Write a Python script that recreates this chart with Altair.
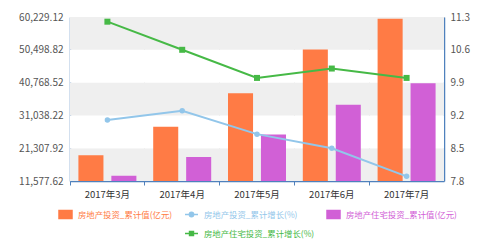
import altair as alt
import pandas as pd

months = ["2017年3月", "2017年4月", "2017年5月", "2017年6月", "2017年7月"]
invest = [19200, 27700, 37600, 50600, 59700]
resi = [13100, 18700, 25400, 34200, 40600]
invest_growth = [9.1, 9.3, 8.8, 8.5, 7.9]
resi_growth = [11.2, 10.6, 10.0, 10.2, 10.0]
left_ticks = [11577.62, 21307.92, 31038.22, 40768.52, 50498.82, 60229.12]
right_ticks = [7.8, 8.5, 9.2, 9.9, 10.6, 11.3]

S1 = "房地产投资_累计值(亿元)"
S2 = "房地产投资_累计增长(%)"
S3 = "房地产住宅投资_累计值(亿元)"
S4 = "房地产住宅投资_累计增长(%)"
BLANK = "blank"
domain = [S1, S2, S3, BLANK, S4]
ORANGE, BLUE, PURPLE, GREEN = "#FF7B45", "#92C6EA", "#D160D6", "#46B946"
crange = [ORANGE, BLUE, PURPLE, "rgba(0,0,0,0)", GREEN]
AXIS_BLUE = "#4F81BD"
FONT = "Noto Sans CJK SC"

bars_df = pd.DataFrame({
    "month": months * 2,
    "series": [S1] * 5 + [S3] * 5,
    "value": invest + resi,
})
g1_df = pd.DataFrame({"month": months, "v": invest_growth})
g2_df = pd.DataFrame({"month": months, "v": resi_growth})
band_df = pd.DataFrame({
    "y": left_ticks[:-1],
    "y2": left_ticks[1:],
    "shade": ["g", "w", "g", "w", "g"],
})

ydom = [left_ticks[0], left_ticks[-1]]
rdom = [right_ticks[0], right_ticks[-1]]

xaxis = alt.Axis(bandPosition=0, labelAngle=0, grid=True, gridColor="#dcdcdc",
                 domainColor=AXIS_BLUE, domainWidth=1.5, tickColor=AXIS_BLUE,
                 tickSize=4, labelColor="#333333", labelFontSize=9.5, labelPadding=4,
                 labelFont=FONT, labelOverlap=False, labelLimit=200)
xscale = alt.Scale(paddingInner=0, paddingOuter=0)


def xenc():
    return alt.X("month:N", sort=months, title=None, scale=xscale, axis=xaxis)


yaxis = alt.Axis(values=left_ticks, format=",.2f", grid=False, ticks=False,
                 domainColor=AXIS_BLUE, domainWidth=1.5, labelColor="#555555",
                 labelFontSize=10, labelPadding=7, labelFont=FONT,
                 labelOverlap=False)
yscale = alt.Scale(domain=ydom, nice=False, zero=False)

bands = alt.Chart(band_df).mark_rect(clip=True).encode(
    x=alt.value(0), x2=alt.value("width"),
    y=alt.Y("y:Q", scale=yscale, axis=yaxis, title=None),
    y2="y2:Q",
    fill=alt.Fill("shade:N", scale=alt.Scale(domain=["g", "w"], range=["#efefef", "#ffffff"]), legend=None),
)

sym_rect = "M-1,-0.62H1V0.62H-1Z"
sym_circ = "M-1,0H-0.33M0.33,0H1M-0.33,0A0.33,0.33 0 1,0 0.33,0A0.33,0.33 0 1,0 -0.33,0Z"
sym_sq = "M-1,0H-0.33M0.33,0H1M-0.3,-0.3H0.3V0.3H-0.3Z"
shape_expr = ("datum.value == '%s' ? '%s' : datum.value == '%s' ? '%s' : '%s'"
              % (S2, sym_circ, S4, sym_sq, sym_rect))

legend = alt.Legend(
    title=None, values=domain, orient="none", legendX=-12, legendY=190,
    direction="horizontal",
    columns=3, gridAlign="none", columnPadding=9, rowPadding=4,
    symbolSize=169, labelOffset=5, labelFontSize=8.4, labelFont=FONT, labelLimit=300,
    labelExpr="datum.value == '%s' ? '%s' : datum.value" % (BLANK, S1),
    symbolType={"expr": shape_expr},
    symbolFillColor={"expr": "scale('color', datum.value)"},
    symbolStrokeColor={"expr": "scale('color', datum.value)"},
    symbolStrokeWidth=1.5,
    symbolOpacity=1,
    labelColor={"expr": "scale('color', datum.value)"},
)

bars = alt.Chart(bars_df).mark_bar(clip=True).encode(
    x=xenc(),
    xOffset=alt.XOffset("series:N", sort=[S1, S3],
                        scale=alt.Scale(paddingInner=0.24, paddingOuter=0.255)),
    y=alt.Y("value:Q", title=None, scale=yscale, axis=yaxis),
    color=alt.Color("series:N", scale=alt.Scale(domain=domain, range=crange), legend=legend),
)

left = alt.layer(bands, bars)

raxis = alt.Axis(values=right_ticks, format=".1f", grid=False, ticks=False, orient="right",
                 domainColor=AXIS_BLUE, domainWidth=1.5, labelColor="#555555",
                 labelFontSize=10, labelPadding=6, labelFont=FONT, labelOverlap=False)
rscale = alt.Scale(domain=rdom, nice=False, zero=False)

line1 = alt.Chart(g1_df).mark_line(color=BLUE, strokeWidth=2,
                                   point=alt.OverlayMarkDef(color=BLUE, size=30, filled=True)).encode(
    x=xenc(),
    y=alt.Y("v:Q", scale=rscale, axis=raxis, title=None),
)
line2 = alt.Chart(g2_df).mark_line(color=GREEN, strokeWidth=2,
                                   point=alt.OverlayMarkDef(color=GREEN, size=36, filled=True, shape="square")).encode(
    x=xenc(),
    y=alt.Y("v:Q", scale=rscale, axis=raxis, title=None),
)
right = alt.layer(line1, line2)

chart = alt.layer(left, right).resolve_scale(y="independent").properties(
    width=374, height=164,
    autosize=alt.AutoSizeParams(type="none"),
    padding={"left": 70, "top": 17, "right": 55, "bottom": 65},
).configure_view(stroke=None).configure(background="white")

chart.save("out.html", embed_options={"renderer": "svg", "actions": False})
